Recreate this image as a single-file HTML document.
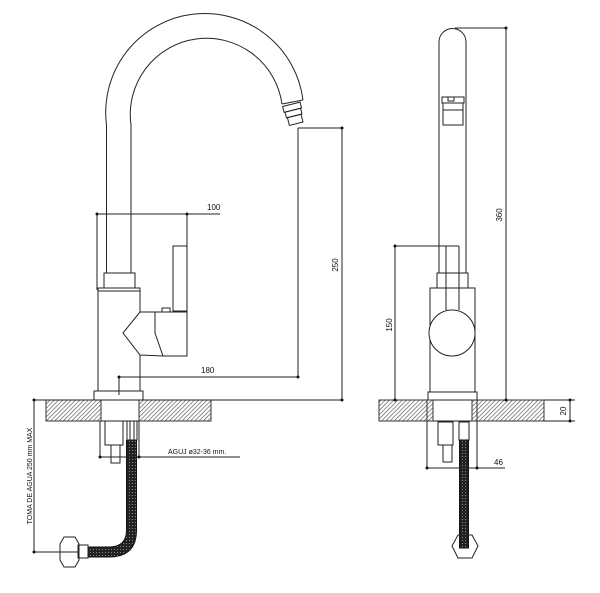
<!DOCTYPE html>
<html><head><style>
html,body{margin:0;padding:0;background:#fff;}
svg{display:block;}
text{font-family:"Liberation Sans",sans-serif;fill:#111;}
</style></head><body>
<svg width="600" height="593" viewBox="0 0 600 593" xmlns="http://www.w3.org/2000/svg">
<defs>
<pattern id="h" width="3" height="3" patternUnits="userSpaceOnUse" patternTransform="rotate(45)">
<rect width="3" height="3" fill="#fff"/>
<line x1="0" y1="0" x2="0" y2="3" stroke="#555" stroke-width="1.3"/>
</pattern>
<pattern id="hose" width="3" height="3" patternUnits="userSpaceOnUse">
<rect width="3" height="3" fill="#222"/>
<rect width="1" height="1" fill="#888"/>
</pattern>
</defs>
<g fill="none" stroke="#222" stroke-width="1">
<!-- LEFT VIEW -->
<!-- spout -->
<path d="M106.5 273 V125 A99 99 0 0 1 303 100"/>
<path d="M131 273 V125 A74 74 0 0 1 282 104"/>
<line x1="282" y1="104" x2="303" y2="100"/>
<g transform="rotate(-14 294 115)">
<rect x="285" y="104" width="18" height="6"/>
<rect x="286" y="110" width="16" height="6"/>
<rect x="287" y="116" width="14" height="8"/>
</g>
<!-- collar/body -->
<rect x="104" y="273" width="31" height="15"/>
<rect x="98" y="288" width="42" height="3"/>
<line x1="98" y1="291" x2="98" y2="391"/>
<line x1="140" y1="291" x2="140" y2="312"/>
<line x1="140" y1="355" x2="140" y2="391"/>
<!-- handle -->
<rect x="173" y="246" width="14" height="65"/>
<path d="M140 312 L155 312 L187 312 L187 356 L163 356 L155 333 L155 312"/>
<path d="M140 312 L123 333 L140 355 L163 356"/>
<rect x="162" y="308" width="8" height="4"/>
<!-- flange -->
<rect x="94" y="391" width="49" height="9"/>
<!-- counter -->
<rect x="46" y="400" width="55" height="21" fill="url(#h)" stroke="#333"/>
<rect x="139" y="400" width="72" height="21" fill="url(#h)" stroke="#333"/>
<line x1="101" y1="421" x2="139" y2="421"/>
<line x1="35" y1="400" x2="342" y2="400"/>
<!-- underside -->
<rect x="105" y="421" width="18" height="24"/>
<rect x="111" y="445" width="9" height="18"/>
<rect x="127" y="421" width="10" height="19"/>
<line x1="130" y1="421" x2="130" y2="440"/><line x1="134" y1="421" x2="134" y2="440"/>
<path d="M131.5 440 V530 Q131.5 552 109 552 H88" stroke="url(#hose)" stroke-width="10"/>
<path d="M126.5 440 V530 Q126.5 547 109 547 H88 M136.5 440 V530 Q136.5 557 109 557 H88" stroke="#111"/>
<rect x="78" y="545" width="10" height="13"/>
<path d="M64 537 L75 537 L79 544 L79 560 L75 567 L64 567 L60 560 L60 544 Z"/>
<line x1="60" y1="552" x2="79" y2="552"/>
<!-- dims left -->
<path d="M97 214 H220 M97 214 V290 M187 214 V246"/>
<path d="M119 377 H298 M119 377 V395 M298 128 V377"/>
<path d="M298 128 H342 M342 128 V400"/>
<path d="M100 421 V457 M139 421 V457 M100 457 H240"/>
<path d="M34 400 V552 H62"/>
<!-- RIGHT VIEW -->
<path d="M439 273 V42 A13.5 13.5 0 0 1 466 42 V273"/>
<rect x="442" y="97" width="22" height="6"/>
<rect x="443" y="103" width="20" height="22" fill="#fff"/>
<line x1="443" y1="110" x2="463" y2="110"/>
<rect x="448" y="97" width="6" height="4"/>
<rect x="437" y="273" width="31" height="15"/>
<rect x="430" y="288" width="45" height="104"/>
<rect x="428" y="392" width="49" height="8"/>
<path d="M446 246 V310 M459 246 V310"/>
<circle cx="452" cy="333" r="23" fill="#fff"/>
<rect x="379" y="400" width="48" height="21" fill="url(#h)" stroke="#333"/>
<rect x="427" y="400" width="6" height="21" fill="url(#h)" stroke="#333"/>
<rect x="472" y="400" width="5" height="21" fill="url(#h)" stroke="#333"/>
<rect x="477" y="400" width="67" height="21" fill="url(#h)" stroke="#333"/>
<line x1="433" y1="421" x2="472" y2="421"/>
<rect x="438" y="422" width="15" height="23"/>
<rect x="443" y="445" width="9" height="17"/>
<rect x="459" y="422" width="10" height="18"/>
<rect x="459.5" y="440" width="9" height="108" fill="url(#hose)" stroke="#111"/>
<path d="M458 535 L472 535 L478 546 L472 558 L458 558 L452 546 Z"/>
<!-- dims right -->
<path d="M455 28 H506 M506 28 V400"/>
<path d="M395 246 H459 M395 246 V400"/>
<path d="M544 400 H575 M544 421 H575 M570 400 V421"/>
<path d="M427 421 V468 M477 421 V468 M427 468 H505"/>
</g>
<g fill="#111">
<circle cx="97" cy="214" r="1.5"/><circle cx="187" cy="214" r="1.5"/>
<circle cx="119" cy="377" r="1.5"/><circle cx="298" cy="377" r="1.5"/>
<circle cx="342" cy="128" r="1.5"/><circle cx="342" cy="400" r="1.5"/>
<circle cx="100" cy="457" r="1.5"/><circle cx="139" cy="457" r="1.5"/>
<circle cx="34" cy="400" r="1.5"/><circle cx="34" cy="552" r="1.5"/>
<circle cx="506" cy="28" r="1.5"/><circle cx="506" cy="400" r="1.5"/>
<circle cx="395" cy="246" r="1.5"/><circle cx="395" cy="400" r="1.5"/>
<circle cx="570" cy="400" r="1.5"/><circle cx="570" cy="421" r="1.5"/>
<circle cx="427" cy="468" r="1.5"/><circle cx="477" cy="468" r="1.5"/>
</g>
<g font-size="8">
<text x="207" y="210">100</text>
<text x="201" y="373">180</text>
<text x="168" y="454" font-size="7">AGUJ ø32-36 mm.</text>
<text x="494" y="465">46</text>
<text transform="translate(338 265) rotate(-90)" text-anchor="middle">250</text>
<text transform="translate(502 215) rotate(-90)" text-anchor="middle">360</text>
<text transform="translate(392 325) rotate(-90)" text-anchor="middle">150</text>
<text transform="translate(566 411) rotate(-90)" text-anchor="middle">20</text>
<text transform="translate(32 476) rotate(-90)" text-anchor="middle" font-size="7">TOMA DE AGUA 250 mm MAX</text>
</g>
</svg>
</body></html>
